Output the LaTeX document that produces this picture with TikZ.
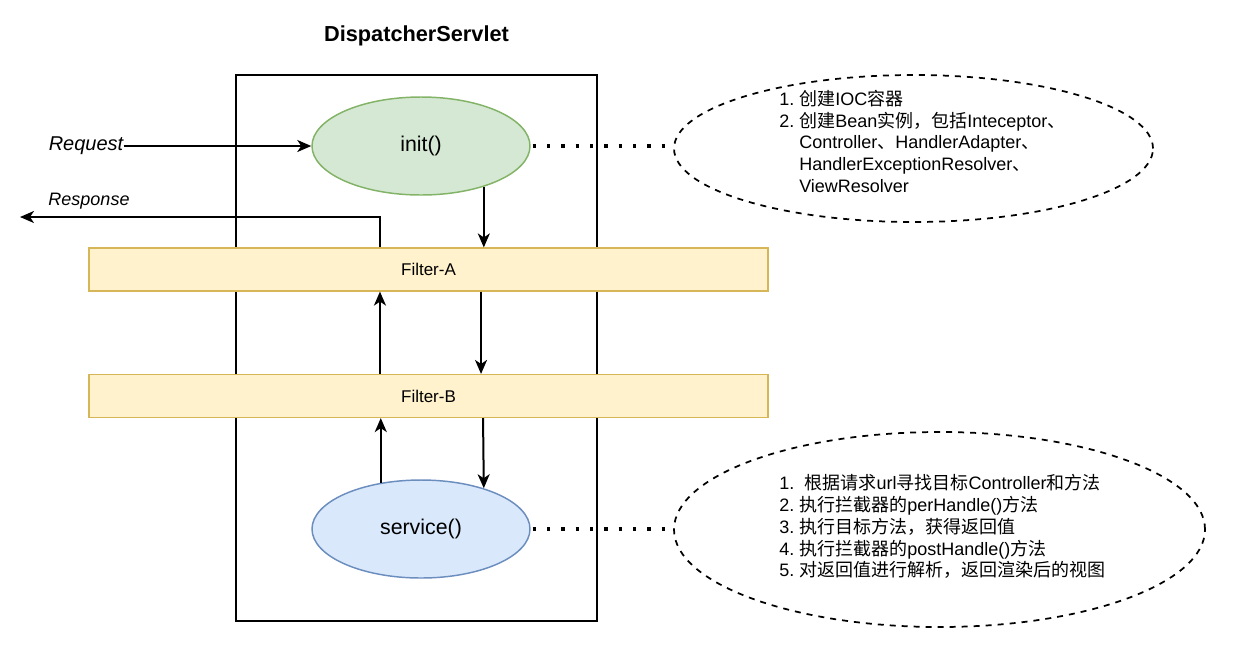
\documentclass[tikz,border=0pt]{standalone}
\usepackage{fontspec}
\setmainfont{Liberation Sans}
\newfontfamily\cjk{Noto Sans CJK SC}
\usetikzlibrary{arrows.meta,shapes.geometric}
\definecolor{gfill}{HTML}{D5E8D4}
\definecolor{gline}{HTML}{82B366}
\definecolor{bfill}{HTML}{DAE8FC}
\definecolor{bline}{HTML}{6C8EBF}
\definecolor{yfill}{HTML}{FFF2CC}
\definecolor{yline}{HTML}{D6B656}
\begin{document}
\begin{tikzpicture}[x=0.75pt,y=-0.75pt,
  arr/.style={line width=1.5pt,-{Stealth[length=10.5pt,width=9pt,inset=3pt]}},
  oval/.style={ellipse,draw,line width=1.1pt,minimum width=163.5pt,minimum height=73.5pt,inner sep=0,font=\fontsize{16}{19}\selectfont},
  filterbox/.style={draw=yline,fill=yfill,line width=1.1pt,minimum width=509.25pt,minimum height=32pt,inner sep=0,font=\fontsize{12.75}{15}\selectfont},
  note/.style={ellipse,draw,dashed,dash pattern=on 4.5pt off 4.5pt,line width=1.3pt,inner sep=0},
  notetext/.style={anchor=west,inner sep=0,font=\fontsize{13.5}{16.3}\selectfont,align=left},
  dots/.style={line width=2.4pt,dash pattern=on 2.4pt off 8.35pt}
]
\useasboundingbox (0,0) rectangle (1237,658);

\node[font=\bfseries\fontsize{16.3}{19}\selectfont] (title) at (416.5,36) {DispatcherServlet};
\node[draw,line width=1.5pt,minimum width=270.75pt,minimum height=409.5pt,inner sep=0] (box) at (416.5,348) {};

\node[filterbox] (fa) at (428.5,269.5) {Filter-A};
\node[filterbox] (fb) at (428.5,396) {Filter-B};

\node[oval,fill=gfill,draw=gline] (init) at (421,146) {init()};
\node[oval,fill=bfill,draw=bline] (service) at (421,529) {service()};

\node[note,minimum width=359.25pt,minimum height=110.25pt] (n1) at (913.5,148.5) {};
\node[note,minimum width=398.25pt,minimum height=146.25pt] (n2) at (939.5,529.5) {};

\node[notetext] (t1) at (779,144.5) {\begin{tabular}{@{}l@{\hspace{0.278em}}l@{}}
1. & {\cjk 创建}IOC{\cjk 容器}\\
2. & {\cjk 创建}Bean{\cjk 实例，包括}Inteceptor{\cjk 、}\\
 & Controller{\cjk 、}HandlerAdapter{\cjk 、}\\
 & HandlerExceptionResolver{\cjk 、}\\
 & ViewResolver
\end{tabular}};

\node[notetext] (t2) at (779,529) {\begin{tabular}{@{}l@{\hspace{0.278em}}l@{}}
1. & \hspace{0.3em}{\cjk 根据请求}url{\cjk 寻找目标}Controller{\cjk 和方法}\\
2. & {\cjk 执行拦截器的}perHandle(){\cjk 方法}\\
3. & {\cjk 执行目标方法，获得返回值}\\
4. & {\cjk 执行拦截器的}postHandle(){\cjk 方法}\\
5. & {\cjk 对返回值进行解析，返回渲染后的视图}
\end{tabular}};

\node[inner sep=0,font=\itshape\fontsize{15}{18}\selectfont] (req) at (86,146) {Request};
\node[inner sep=0,font=\itshape\fontsize{13.5}{16}\selectfont] (resptext) at (89,201) {Response};
\coordinate (respend) at (20,217);

\draw[arr] (req.east) -- (init.west);
\draw[arr] (init.-33.5) -- (init.-33.5 |- fa.north);
\draw[arr] ([xshift=39.4pt]fa.south) -- ([xshift=39.4pt]fb.north);
\draw[arr] ([xshift=40.9pt]fb.south) -- (service.33);
\draw[arr] (service.131.3) -- (service.131.3 |- fb.south);
\draw[arr] ([xshift=-36.4pt]fb.north) -- ([xshift=-36.4pt]fa.south);
\draw[arr] ([xshift=-36.4pt]fa.north) |- (respend);

\draw[dots] ([xshift=1.5pt]init.east) -- ([xshift=-4pt]n1.west |- init.east);
\draw[dots] ([xshift=1.5pt]service.east) -- ([xshift=-4pt]n2.west |- service.east);
\end{tikzpicture}
\end{document}
